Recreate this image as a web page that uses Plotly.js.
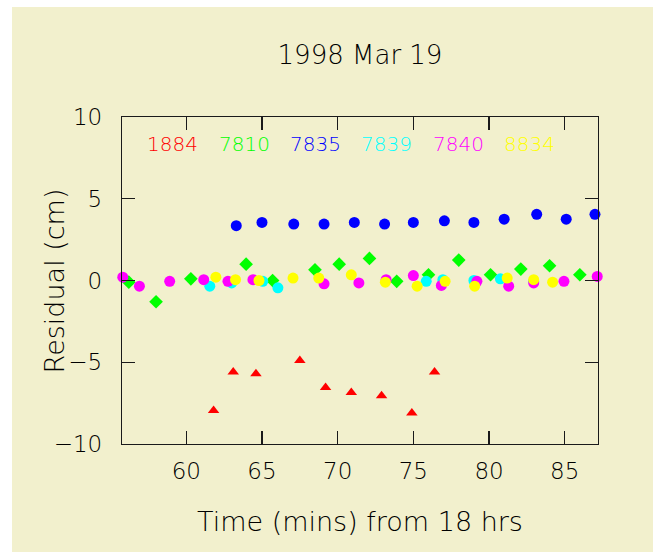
<!DOCTYPE html>
<html>
<head>
<meta charset="utf-8">
<script src="https://cdn.plot.ly/plotly-3.0.1.min.js"></script>
<style>
html, body { margin: 0; padding: 0; background: #ffffff; width: 660px; height: 552px; overflow: hidden; }
#chart { position: absolute; left: 12px; top: 7px; width: 641px; height: 545px; }
</style>
</head>
<body>
<div id="chart"></div>
<script>
// Station series: time (mins from 18 hrs) and residual (cm)
const stations = ["1884", "7810", "7835", "7839", "7840", "8834"];
const stationColors = ["#ff0000", "#00ff00", "#0000ff", "#00ffff", "#ff00ff", "#ffff00"];

const t1884 = [61.8, 63.1, 64.6, 67.5, 69.2, 70.9, 72.9, 74.9, 76.4];
const r1884 = [-7.95, -5.6, -5.7, -4.9, -6.55, -6.85, -7.05, -8.1, -5.6];

const t7810 = [56.2, 58.0, 60.3, 63.95, 65.7, 68.5, 70.1, 72.1, 73.9, 76.0, 78.0, 80.1, 82.1, 84.0, 86.0];
const r7810 = [-0.1, -1.3, 0.1, 1.0, 0.0, 0.65, 1.0, 1.35, -0.05, 0.35, 1.25, 0.35, 0.7, 0.9, 0.35];

const t7835 = [63.3, 65.0, 67.1, 69.1, 71.1, 73.1, 75.0, 77.05, 79.0, 81.0, 83.15, 85.1, 87.0];
const r7835 = [3.35, 3.55, 3.45, 3.45, 3.55, 3.45, 3.55, 3.65, 3.55, 3.75, 4.05, 3.75, 4.05];

const t7839 = [61.55, 63.0, 65.05, 66.05, 75.85, 76.95, 79.0, 80.75, 82.95];
const r7839 = [-0.35, -0.15, -0.05, -0.45, -0.05, 0.05, 0.0, 0.1, -0.05];

const t7840 = [55.8, 56.9, 58.9, 61.15, 62.75, 64.4, 69.1, 71.4, 73.2, 75.0, 76.85, 79.2, 81.3, 82.95, 84.95, 87.15];
const r7840 = [0.2, -0.35, -0.05, 0.05, -0.05, 0.05, -0.2, -0.15, 0.05, 0.3, -0.3, -0.05, -0.35, -0.15, -0.05, 0.25];

const t8834 = [61.95, 63.25, 64.8, 67.05, 68.75, 70.9, 73.15, 75.25, 77.1, 79.05, 81.2, 82.95, 84.2];
const r8834 = [0.2, 0.05, 0.0, 0.15, 0.15, 0.35, -0.1, -0.35, -0.05, -0.35, 0.15, 0.05, -0.1];

// Label positions for the in-plot station key (data x-coords)
const keyX = [59.1, 63.85, 68.55, 73.25, 77.95, 82.7];
const keyY = 8.35;

const xTicks = [60, 65, 70, 75, 80, 85];
const yTicks = [-10, -5, 0, 5, 10];

const FONT = "DejaVu Sans, Liberation Sans, sans-serif";
const INK = "#000000";
const LINE = "#1a1a1a";
const W = 200;

const seriesX = [t1884, t7810, t7835, t7839, t7840, t8834];
const seriesY = [r1884, r7810, r7835, r7839, r7840, r8834];
const symbols = ["triangle-up", "diamond", "circle", "circle", "circle", "circle"];
const sizes = [10, 10.5, 11, 11, 11, 11];

const traces = stations.map((s, i) => ({
  type: "scatter",
  mode: "markers",
  name: s,
  x: seriesX[i],
  y: seriesY[i],
  cliponaxis: false,
  marker: { symbol: symbols[i], size: sizes[i], color: stationColors[i], line: { width: 0 } }
}));

const annotations = stations.map((s, i) => ({
  text: s, x: keyX[i], y: keyY, xref: "x", yref: "y",
  showarrow: false, xanchor: "center", yanchor: "middle",
  font: { family: FONT, size: 20, color: stationColors[i], weight: W }
}));

annotations.push({
  text: "Residual (cm)", textangle: -90,
  xref: "paper", yref: "paper", x: -0.141, y: 0.5,
  xanchor: "center", yanchor: "middle", showarrow: false,
  font: { family: FONT, size: 27, color: INK, weight: W }
});
annotations.push({
  text: "Time (mins) from 18 hrs",
  xref: "paper", yref: "paper", x: 0.5, y: -0.238,
  xanchor: "center", yanchor: "middle", showarrow: false,
  font: { family: FONT, size: 27, color: INK, weight: W }
});

const axisCommon = {
  showgrid: false, zeroline: false,
  showline: true, mirror: "ticks", linecolor: LINE, linewidth: 1.2,
  ticks: "inside", ticklen: 13, tickwidth: 1.2, tickcolor: LINE,
  tickfont: { family: FONT, size: 23, color: INK, weight: W },
  fixedrange: true
};

const layout = {
  width: 641, height: 545,
  paper_bgcolor: "#f2f0cd", plot_bgcolor: "#f2f0cd",
  margin: { l: 110, r: 55, t: 110, b: 108, pad: 0 },
  showlegend: false,
  title: {
    text: "1998 Mar 19",
    font: { family: FONT, size: 26, color: INK, weight: W },
    x: 0.5, xref: "paper", xanchor: "center",
    y: 0.913, yref: "container", yanchor: "middle"
  },
  xaxis: Object.assign({}, axisCommon, {
    range: [55.75, 87.2], tickmode: "array", tickvals: xTicks,
    ticktext: xTicks.map(String), ticklabelstandoff: 6
  }),
  yaxis: Object.assign({}, axisCommon, {
    range: [-10, 10], tickmode: "array", tickvals: yTicks,
    ticktext: yTicks.map(v => v < 0 ? "\u2212" + Math.abs(v) : String(v)),
    ticklabelstandoff: 14
  }),
  annotations: annotations
};

Plotly.newPlot("chart", traces, layout, { displayModeBar: false, staticPlot: true });
</script>
</body>
</html>
